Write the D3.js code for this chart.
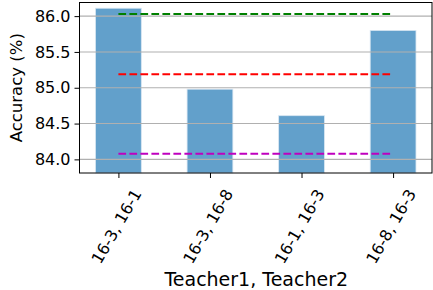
<!DOCTYPE html>
<html><head><meta charset="utf-8">
<script src="https://cdn.jsdelivr.net/npm/d3@7"></script>
<style>body{margin:0;background:#fff}svg{display:block}text{font-family:"DejaVu Sans",sans-serif;fill:#000}</style>
</head><body><svg id="c" width="433" height="290"></svg>
<script>
const categories = ["16-3, 16-1", "16-3, 16-8", "16-1, 16-3", "16-8, 16-3"];
const accuracy = [86.11, 84.98, 84.61, 85.80];
const refLines = [
  {value: 86.03, color: "#008000"},
  {value: 85.19, color: "#ff0000"},
  {value: 84.08, color: "#bf00bf"}
];
const yTicks = [84.0, 84.5, 85.0, 85.5, 86.0];
const xLabel = "Teacher1, Teacher2";
const yLabel = "Accuracy (%)";

const svg = d3.select("#c");
const L = 79.5, R = 432, T = 2.5, B = 173;
const x = d3.scaleLinear().domain([-0.425, 3.425]).range([L, R]);
const y = d3.scaleLinear().domain([83.81, 86.19]).range([B, T]);
const bw = 0.5;

svg.append("g").selectAll("rect").data(accuracy).join("rect")
  .attr("x", (d,i) => x(i - bw/2)).attr("width", (d,i) => x(i + bw/2) - x(i - bw/2))
  .attr("y", d => y(d)).attr("height", d => B - y(d))
  .attr("fill", "#62a0cb").attr("stroke", "#d8e6f2").attr("stroke-width", 0.8);

// grid on top
svg.append("g").selectAll("line").data(yTicks).join("line")
  .attr("x1", L).attr("x2", R).attr("y1", d => y(d)).attr("y2", d => y(d))
  .attr("stroke", "#b0b0b0").attr("stroke-width", 1.1);

svg.append("g").selectAll("line").data(refLines).join("line")
  .attr("x1", x(0)).attr("x2", x(categories.length - 1))
  .attr("y1", d => y(d.value)).attr("y2", d => y(d.value))
  .attr("stroke", d => d.color).attr("stroke-width", 2).attr("stroke-dasharray", "7.7,3.3");

// axes
const yAxis = d3.axisLeft(y).tickValues(yTicks).tickFormat(d3.format(".1f")).tickSize(5).tickPadding(4);
const gy = svg.append("g").attr("transform", `translate(${L},0)`).call(yAxis);
gy.select(".domain").remove();
gy.selectAll("text").attr("font-size", 16).attr("font-family", "DejaVu Sans").attr("fill", "#000");
gy.selectAll("line").attr("stroke", "#000").attr("stroke-width", 1);

const xAxis = d3.axisBottom(x).tickValues(d3.range(categories.length)).tickFormat(i => categories[i]).tickSize(5);
const gx = svg.append("g").attr("transform", `translate(0,${B})`).call(xAxis);
gx.select(".domain").remove();
gx.selectAll("line").attr("stroke", "#000").attr("stroke-width", 1);
gx.selectAll("text").attr("font-size", 16).attr("font-family", "DejaVu Sans").attr("fill", "#000")
  .attr("dy", null).attr("y", null).attr("dominant-baseline", "central").attr("text-anchor", "middle")
  .attr("transform", function() {
    const w = this.getComputedTextLength();
    const h = 16 * 1.16;
    const half = (w * Math.sin(Math.PI/3) + h * Math.cos(Math.PI/3)) / 2;
    return `translate(-2.4,${13 + half}) rotate(-60)`;
  });

svg.append("rect").attr("x", L).attr("y", T).attr("width", R - L).attr("height", B - T)
  .attr("fill", "none").attr("stroke", "#000").attr("stroke-width", 1);

svg.append("text").attr("x", (L + R) / 2 + 0.5).attr("y", 286).attr("text-anchor", "middle")
  .attr("font-size", 19).text(xLabel);
svg.append("text").attr("transform", `translate(22,${(T + B) / 2}) rotate(-90)`).attr("text-anchor", "middle")
  .attr("font-size", 16.5).text(yLabel);
</script></body></html>
